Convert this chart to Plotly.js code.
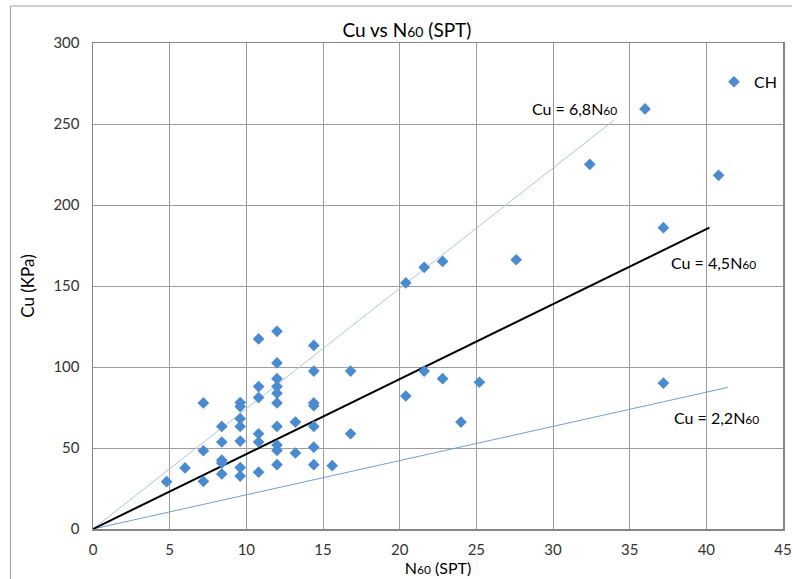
<!DOCTYPE html>
<html>
<head>
<meta charset="utf-8">
<script src="https://cdn.plot.ly/plotly-3.0.1.min.js"></script>
<style>html,body{margin:0;padding:0;background:#fff;}#chart{width:792px;height:579px;}</style>
</head>
<body>
<div id="chart"></div>
<script>
// Data
const n60 = [4.8, 6, 7.2, 7.2, 7.2,
  8.4, 8.4, 8.4, 8.4, 8.4,
  9.6, 9.6, 9.6, 9.6, 9.6, 9.6, 9.6,
  10.8, 10.8, 10.8, 10.8, 10.8, 10.8,
  12, 12, 12, 12, 12, 12, 12, 12, 12, 12,
  13.2, 13.2,
  14.4, 14.4, 14.4, 14.4, 14.4, 14.4, 14.4,
  15.6, 16.8, 16.8,
  20.4, 20.4, 21.6, 21.6, 22.8, 22.8,
  24, 25.2, 27.6, 32.4, 36, 37.2, 37.2, 40.8];
const cu = [29.2, 37.7, 77.8, 48.3, 29.4,
  63.3, 53.7, 42.5, 40.8, 34.0,
  78.1, 75.6, 68.1, 63.3, 54.3, 37.9, 32.7,
  117.3, 87.9, 81.1, 58.8, 53.7, 35.1,
  122, 102.5, 92.8, 87.9, 83.8, 77.8, 63.3, 51.8, 48.5, 39.7,
  66.0, 46.9,
  113.3, 97.5, 77.8, 76.1, 63.3, 50.5, 39.7,
  39.1, 97.5, 58.8,
  151.9, 82.1, 161.5, 97.5, 165.2, 92.8,
  66.0, 90.6, 166.2, 225.1, 259.3, 186, 90.1, 218.3];

// Reference lines as drawn (start, end)
const lineHighX = [0, 34.0];
const lineHighY = [0, 252.5];
const lineMidX = [0, 40.2];
const lineMidY = [0, 186];
const lineLowX = [0, 41.4];
const lineLowY = [0, 87.4];

const xTicks = [0, 5, 10, 15, 20, 25, 30, 35, 40, 45];
const yTicks = [0, 50, 100, 150, 200, 250, 300];

const FONT = 'Lato, "Open Sans", sans-serif';
const sub = (s, sz) => '<span style="font-size:' + (sz || 12) + 'px">' + s + '</span>';

const traces = [
  {x: lineHighX, y: lineHighY, mode: 'lines', line: {color: '#a9c5e6', width: 1}, showlegend: false, hoverinfo: 'skip'},
  {x: lineLowX, y: lineLowY, mode: 'lines', line: {color: '#6f9fd6', width: 1}, showlegend: false, hoverinfo: 'skip'},
  {x: lineMidX, y: lineMidY, mode: 'lines', line: {color: '#000000', width: 2}, showlegend: false, hoverinfo: 'skip'},
  {x: n60, y: cu, mode: 'markers', name: 'CH',
   marker: {symbol: 'diamond', size: 9, color: '#4a8ad0'}}
];

const axisCommon = {
  showgrid: true, gridcolor: '#9c9c9c', gridwidth: 1,
  showline: true, linecolor: '#868686', linewidth: 1.5, mirror: true,
  zeroline: false, ticks: 'outside', ticklen: 6, tickcolor: 'rgba(0,0,0,0)',
  tickfont: {family: FONT, size: 15, color: '#333333'},
  fixedrange: true
};

const layout = {
  width: 792, height: 579,
  margin: {l: 93, r: 9, t: 43, b: 50},
  paper_bgcolor: '#ffffff', plot_bgcolor: '#ffffff',
  font: {family: FONT, color: '#000000'},
  title: {text: 'Cu vs N' + sub('60', 14) + ' (SPT)', font: {family: FONT, size: 19, color: '#000'},
          x: 0.455, xanchor: 'center', y: 0.948, yanchor: 'middle', xref: 'paper'},
  xaxis: Object.assign({}, axisCommon, {
    range: [0, 45], tickvals: xTicks, ticktext: xTicks.map(String),
    title: {text: 'N' + sub('60', 12) + ' (SPT)', font: {family: FONT, size: 16, color: '#000'}, standoff: 6}
  }),
  yaxis: Object.assign({}, axisCommon, {
    range: [0, 300], tickvals: yTicks, ticktext: yTicks.map(String), ticklen: 9,
    title: {text: 'Cu (KPa)', font: {family: FONT, size: 17, color: '#000'}, standoff: 14}
  }),
  legend: {x: 0.9, y: 0.955, xanchor: 'left', yanchor: 'top', bgcolor: 'rgba(0,0,0,0)',
           font: {family: FONT, size: 16, color: '#000'}, itemwidth: 30},
  annotations: [
    {x: 31.42, y: 259.4, xref: 'x', yref: 'y', text: 'Cu = 6,8N' + sub('60', 12), showarrow: false,
     font: {family: FONT, size: 16, color: '#000'}, xanchor: 'center', yanchor: 'middle'},
    {x: 40.48, y: 164.3, xref: 'x', yref: 'y', text: 'Cu = 4,5N' + sub('60', 12), showarrow: false,
     font: {family: FONT, size: 16, color: '#000'}, xanchor: 'center', yanchor: 'middle'},
    {x: 40.67, y: 68.7, xref: 'x', yref: 'y', text: 'Cu = 2,2N' + sub('60', 12), showarrow: false,
     font: {family: FONT, size: 16, color: '#000'}, xanchor: 'center', yanchor: 'middle'}
  ],
  shapes: [
    {type: 'path', xref: 'paper', yref: 'paper',
     path: 'M -0.1196,-0.2 L -0.1196,1.0761 L 1.03,1.0761',
     line: {color: '#a0a0a0', width: 1}}
  ]
};

Plotly.newPlot('chart', traces, layout, {staticPlot: true, displayModeBar: false});
</script>
</body>
</html>
